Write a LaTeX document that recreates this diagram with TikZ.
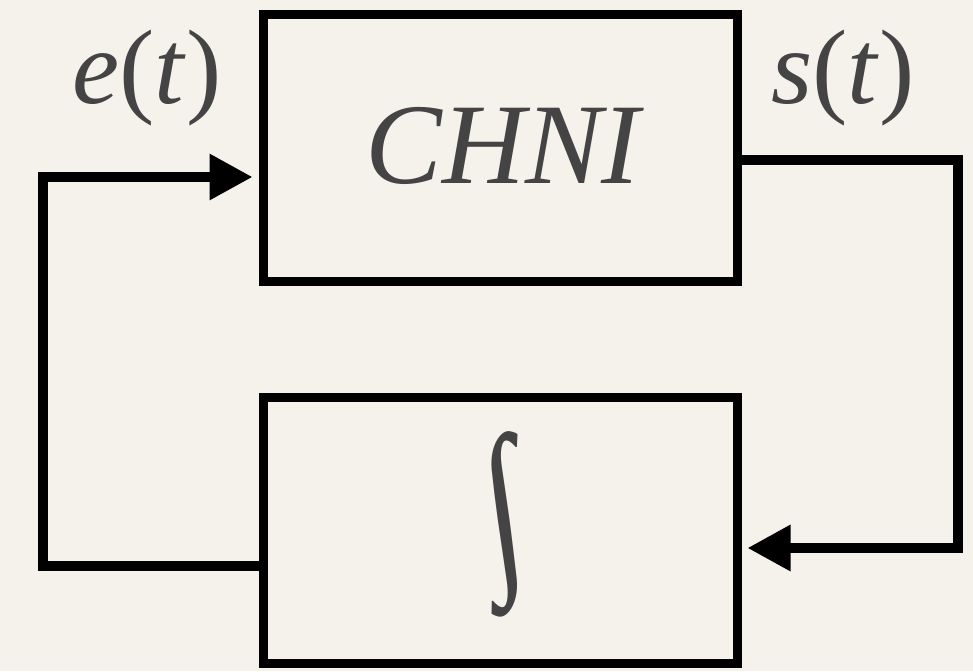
\documentclass[tikz,border=0pt]{standalone}
\usepackage{fontspec}
\setmainfont{Liberation Serif}
\usetikzlibrary{arrows.meta,calc}
\definecolor{paper}{HTML}{F5F2EC}
\definecolor{ink}{HTML}{444444}
\begin{document}
\begin{tikzpicture}[x=1pt,y=-1pt,
  blockbox/.style={draw=black,line width=9pt,minimum width=474pt,minimum height=266pt,inner sep=0pt},
  wire/.style={draw=black,line width=9.5pt,line join=miter,line cap=butt},
  tip/.style={-{Triangle[length=43pt,width=44pt]},shorten >=6pt},
  lbl/.style={text=ink,font=\fontsize{106}{110}\selectfont,inner sep=0pt}]
  \fill[paper] (0,0) rectangle (973,671);
  \useasboundingbox (0,0) rectangle (973,671);
  % the two blocks
  \node[blockbox] (plant) at (500,148) {};
  \node[blockbox] (integ) at (500,530) {};
  \node[lbl,anchor=base,font=\fontsize{115}{120}\selectfont] (name) at (505,183) {\textit{CHNI}};
  % tall upright integral sign: the font's slanted glyph is stretched and straightened
  \begin{scope}[shift={(505,524)},xslant=-0.14,yscale=1.4,transform shape]
    \node[lbl,font=\fontsize{135}{135}\selectfont] (intsign) at (0,0) {∫};
  \end{scope}
  % signal labels
  \node[lbl,anchor=base] (ein) at (147,104) {\textit{e}(\textit{t})};
  \node[lbl,anchor=base] (sout) at (843,104) {\textit{s}(\textit{t})};
  % feedback loop
  \coordinate (lo) at ($(integ.west)+(0,36)$);
  \coordinate (li) at ($(plant.west)+(0,29)$);
  \coordinate (ro) at ($(plant.east)+(0,12)$);
  \coordinate (ri) at ($(integ.east)+(0,18)$);
  \draw[wire,tip] (lo) -- (43,566) -- (43,177) -- (li);
  \draw[wire,tip] (ro) -- (958,160) -- (958,548) -- (ri);
\end{tikzpicture}
\end{document}
